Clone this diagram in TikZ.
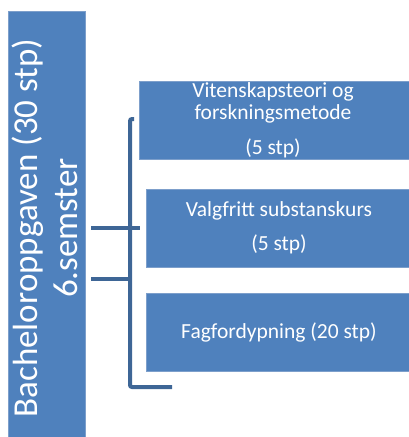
\documentclass[tikz,border=0pt]{standalone}
\usepackage{fontspec}
\setmainfont{Carlito}
\definecolor{boxblue}{HTML}{4F81BD}
\definecolor{edgeblue}{HTML}{7D9FCB}
\definecolor{lineblue}{HTML}{3E6696}
\begin{document}
\begin{tikzpicture}[x=1pt,y=-1pt,
  bluebox/.style={fill=boxblue,draw=edgeblue,line width=0.8pt,text=white,inner sep=0pt,align=center},
  bigtext/.style={rotate=90,text=white,anchor=base,inner sep=0pt,font=\fontsize{35}{40}\selectfont},
  smalltext/.style={text=white,inner sep=0pt,font=\fontsize{21.5}{22}\selectfont},
  bracket/.style={draw=lineblue,line width=4pt}]
\useasboundingbox (0,0) rectangle (408,437);
\node[bluebox,minimum width=77pt,minimum height=430pt,anchor=north west] (main) at (8,11) {};
\node[bigtext] (maintext) at (37,228) {Bacheloroppgaven (30 stp)};
\node[bigtext] (maintextb) at (77,228) {6.semster};
\node[bluebox,minimum width=272pt,minimum height=78pt,anchor=north west] (b1) at (139,81) {};
\node[smalltext] (t1) at (273,92) {Vitenskapsteori og};
\node[smalltext] (t1a) at (273,114) {forskningsmetode};
\node[smalltext] (t1b) at (273,148) {(5 stp)};
\node[bluebox,minimum width=265pt,minimum height=78pt,anchor=north west] (b2) at (146,189) {};
\node[smalltext] (t2) at (279,211) {Valgfritt substanskurs};
\node[smalltext] (t2b) at (279,244) {(5 stp)};
\node[bluebox,minimum width=265pt,minimum height=78pt,anchor=north west] (b3) at (146,293) {};
\node[smalltext] (t3) at (279,332) {Fagfordypning (20 stp)};
\coordinate (top) at (134,119);
\coordinate (bot) at (172,387);
\coordinate (h1s) at (91,228);
\coordinate (h1e) at (140,228);
\coordinate (h2s) at (91,279);
\coordinate (h2e) at (130,279);
\draw[bracket,rounded corners=2pt] (top) -- (130,119) -- (130,387) -- (bot);
\draw[bracket] (h1s) -- (h1e);
\draw[bracket] (h2s) -- (h2e);
\end{tikzpicture}
\end{document}
